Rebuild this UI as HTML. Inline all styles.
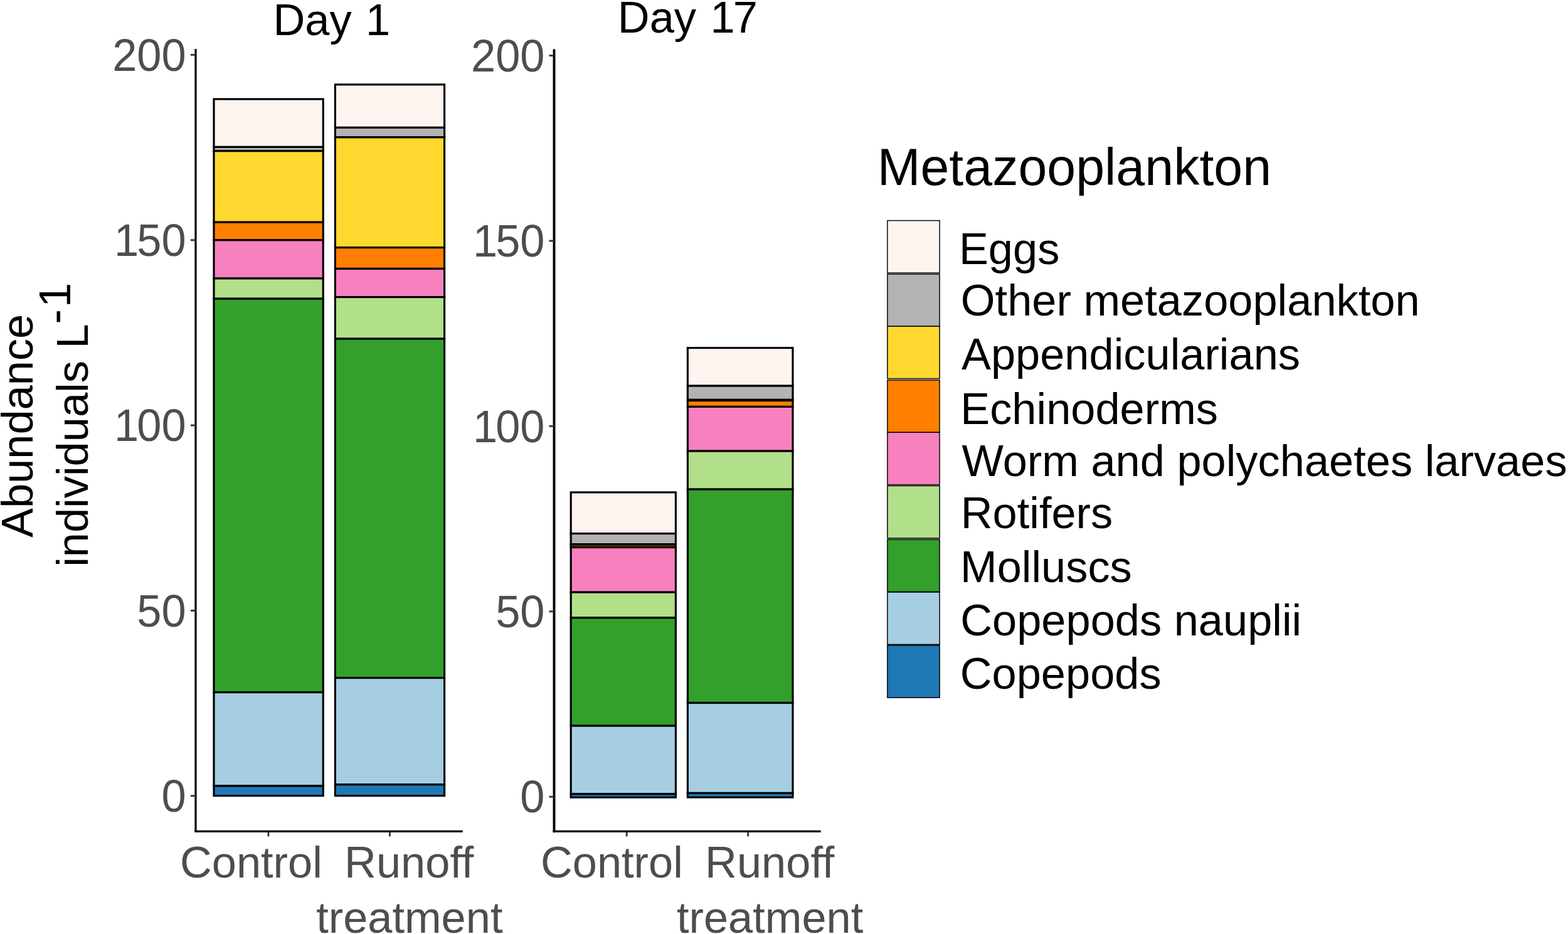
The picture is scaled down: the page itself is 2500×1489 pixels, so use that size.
<!DOCTYPE html>
<html><head><meta charset="utf-8"><title>Metazooplankton abundance</title>
<style>html,body{margin:0;padding:0;background:#fff;overflow:hidden;}svg{display:block;}</style>
</head><body>
<svg width="2500" height="1489" viewBox="0 0 2500 1489" font-family="'Liberation Sans', Arial, Helvetica, sans-serif">
<rect width="2500" height="1489" fill="#fff"/>
<rect x="341.00" y="158.00" width="174.25" height="76.40" fill="#FFF5F0" stroke="#000" stroke-width="3.15"/>
<rect x="341.00" y="234.40" width="174.25" height="6.30" fill="#B3B3B3" stroke="#000" stroke-width="3.15"/>
<rect x="341.00" y="240.70" width="174.25" height="113.60" fill="#FFD92F" stroke="#000" stroke-width="3.15"/>
<rect x="341.00" y="354.30" width="174.25" height="28.50" fill="#FF7F00" stroke="#000" stroke-width="3.15"/>
<rect x="341.00" y="382.80" width="174.25" height="61.10" fill="#F781BF" stroke="#000" stroke-width="3.15"/>
<rect x="341.00" y="443.90" width="174.25" height="32.30" fill="#B2DF8A" stroke="#000" stroke-width="3.15"/>
<rect x="341.00" y="476.20" width="174.25" height="627.50" fill="#33A02C" stroke="#000" stroke-width="3.15"/>
<rect x="341.00" y="1103.70" width="174.25" height="149.30" fill="#A6CEE3" stroke="#000" stroke-width="3.15"/>
<rect x="341.00" y="1253.00" width="174.25" height="15.60" fill="#1F78B4" stroke="#000" stroke-width="3.15"/>
<rect x="534.40" y="134.80" width="174.20" height="68.60" fill="#FFF5F0" stroke="#000" stroke-width="3.15"/>
<rect x="534.40" y="203.40" width="174.20" height="15.50" fill="#B3B3B3" stroke="#000" stroke-width="3.15"/>
<rect x="534.40" y="218.90" width="174.20" height="175.70" fill="#FFD92F" stroke="#000" stroke-width="3.15"/>
<rect x="534.40" y="394.60" width="174.20" height="33.80" fill="#FF7F00" stroke="#000" stroke-width="3.15"/>
<rect x="534.40" y="428.40" width="174.20" height="45.20" fill="#F781BF" stroke="#000" stroke-width="3.15"/>
<rect x="534.40" y="473.60" width="174.20" height="66.50" fill="#B2DF8A" stroke="#000" stroke-width="3.15"/>
<rect x="534.40" y="540.10" width="174.20" height="540.60" fill="#33A02C" stroke="#000" stroke-width="3.15"/>
<rect x="534.40" y="1080.70" width="174.20" height="170.10" fill="#A6CEE3" stroke="#000" stroke-width="3.15"/>
<rect x="534.40" y="1250.80" width="174.20" height="17.80" fill="#1F78B4" stroke="#000" stroke-width="3.15"/>
<rect x="910.20" y="784.90" width="167.20" height="65.70" fill="#FFF5F0" stroke="#000" stroke-width="3.15"/>
<rect x="910.20" y="850.60" width="167.20" height="17.00" fill="#B3B3B3" stroke="#000" stroke-width="3.15"/>
<rect x="910.20" y="867.60" width="167.20" height="0.50" fill="#FFD92F" stroke="#000" stroke-width="3.15"/>
<rect x="910.20" y="868.10" width="167.20" height="4.50" fill="#8A4600" stroke="#000" stroke-width="3.15"/>
<rect x="910.20" y="872.60" width="167.20" height="71.60" fill="#F781BF" stroke="#000" stroke-width="3.15"/>
<rect x="910.20" y="944.20" width="167.20" height="40.70" fill="#B2DF8A" stroke="#000" stroke-width="3.15"/>
<rect x="910.20" y="984.90" width="167.20" height="172.20" fill="#33A02C" stroke="#000" stroke-width="3.15"/>
<rect x="910.20" y="1157.10" width="167.20" height="108.70" fill="#A6CEE3" stroke="#000" stroke-width="3.15"/>
<rect x="910.20" y="1265.80" width="167.20" height="5.40" fill="#1F78B4" stroke="#000" stroke-width="3.15"/>
<rect x="1096.40" y="554.60" width="167.60" height="60.60" fill="#FFF5F0" stroke="#000" stroke-width="3.15"/>
<rect x="1096.40" y="615.20" width="167.60" height="22.20" fill="#B3B3B3" stroke="#000" stroke-width="3.15"/>
<rect x="1096.40" y="637.40" width="167.60" height="1.20" fill="#FFD92F" stroke="#000" stroke-width="3.15"/>
<rect x="1096.40" y="638.60" width="167.60" height="9.80" fill="#FF7F00" stroke="#000" stroke-width="3.15"/>
<rect x="1096.40" y="648.40" width="167.60" height="70.70" fill="#F781BF" stroke="#000" stroke-width="3.15"/>
<rect x="1096.40" y="719.10" width="167.60" height="61.00" fill="#B2DF8A" stroke="#000" stroke-width="3.15"/>
<rect x="1096.40" y="780.10" width="167.60" height="340.40" fill="#33A02C" stroke="#000" stroke-width="3.15"/>
<rect x="1096.40" y="1120.50" width="167.60" height="143.90" fill="#A6CEE3" stroke="#000" stroke-width="3.15"/>
<rect x="1096.40" y="1264.40" width="167.60" height="6.70" fill="#1F78B4" stroke="#000" stroke-width="3.15"/>
<path d="M311.95,78.00 V1325.45" fill="none" stroke="#000" stroke-width="3.2" stroke-linecap="butt"/>
<path d="M310.35,1325.45 H737.70" fill="none" stroke="#000" stroke-width="3.2"/>
<line x1="303.95" y1="87.40" x2="311.95" y2="87.40" stroke="#333" stroke-width="2.9"/>
<line x1="303.95" y1="382.75" x2="311.95" y2="382.75" stroke="#333" stroke-width="2.9"/>
<line x1="303.95" y1="678.10" x2="311.95" y2="678.10" stroke="#333" stroke-width="2.9"/>
<line x1="303.95" y1="973.45" x2="311.95" y2="973.45" stroke="#333" stroke-width="2.9"/>
<line x1="303.95" y1="1268.80" x2="311.95" y2="1268.80" stroke="#333" stroke-width="2.9"/>
<line x1="427.90" y1="1325.45" x2="427.90" y2="1333.45" stroke="#333" stroke-width="2.9"/>
<line x1="621.50" y1="1325.45" x2="621.50" y2="1333.45" stroke="#333" stroke-width="2.9"/>
<text transform="translate(179.19,112.60) scale(1,1.0280)" font-size="70.4" text-anchor="start" fill="#4D4D4D">200</text>
<text transform="translate(179.19,407.95) scale(1,1.0280)" font-size="70.4" text-anchor="start" fill="#4D4D4D"><tspan dx="2.9">1</tspan><tspan dx="-2.9">5</tspan>0</text>
<text transform="translate(179.19,703.30) scale(1,1.0280)" font-size="70.4" text-anchor="start" fill="#4D4D4D"><tspan dx="2.9">1</tspan><tspan dx="-2.9">0</tspan>0</text>
<text transform="translate(218.34,998.65) scale(1,1.0280)" font-size="70.4" text-anchor="start" fill="#4D4D4D">50</text>
<text transform="translate(257.50,1294.00) scale(1,1.0280)" font-size="70.4" text-anchor="start" fill="#4D4D4D">0</text>
<text transform="translate(435.43,56.10)" font-size="70.4" text-anchor="start" fill="#000">Day <tspan dx="2.9">1</tspan></text>
<text transform="translate(286.93,1399.10)" font-size="70.4" text-anchor="start" fill="#4D4D4D">Control</text>
<text transform="translate(549.12,1399.10)" font-size="70.4" text-anchor="start" fill="#4D4D4D">Runoff</text>
<text transform="translate(504.13,1487.10)" font-size="70.4" text-anchor="start" fill="#4D4D4D">treatment</text>
<path d="M883.50,79.95 V1325.45" fill="none" stroke="#000" stroke-width="3.9" stroke-linecap="round"/>
<path d="M881.55,1325.45 H1308.70" fill="none" stroke="#000" stroke-width="3.2"/>
<line x1="875.50" y1="88.60" x2="883.50" y2="88.60" stroke="#333" stroke-width="2.9"/>
<line x1="875.50" y1="384.00" x2="883.50" y2="384.00" stroke="#333" stroke-width="2.9"/>
<line x1="875.50" y1="679.40" x2="883.50" y2="679.40" stroke="#333" stroke-width="2.9"/>
<line x1="875.50" y1="974.80" x2="883.50" y2="974.80" stroke="#333" stroke-width="2.9"/>
<line x1="875.50" y1="1270.20" x2="883.50" y2="1270.20" stroke="#333" stroke-width="2.9"/>
<line x1="999.20" y1="1325.45" x2="999.20" y2="1333.45" stroke="#333" stroke-width="2.9"/>
<line x1="1192.70" y1="1325.45" x2="1192.70" y2="1333.45" stroke="#333" stroke-width="2.9"/>
<text transform="translate(750.99,113.80) scale(1,1.0280)" font-size="70.4" text-anchor="start" fill="#4D4D4D">200</text>
<text transform="translate(750.99,409.20) scale(1,1.0280)" font-size="70.4" text-anchor="start" fill="#4D4D4D"><tspan dx="2.9">1</tspan><tspan dx="-2.9">5</tspan>0</text>
<text transform="translate(750.99,704.60) scale(1,1.0280)" font-size="70.4" text-anchor="start" fill="#4D4D4D"><tspan dx="2.9">1</tspan><tspan dx="-2.9">0</tspan>0</text>
<text transform="translate(790.14,1000.00) scale(1,1.0280)" font-size="70.4" text-anchor="start" fill="#4D4D4D">50</text>
<text transform="translate(829.30,1295.40) scale(1,1.0280)" font-size="70.4" text-anchor="start" fill="#4D4D4D">0</text>
<text transform="translate(984.83,52.00)" font-size="70.4" text-anchor="start" fill="#000">Day <tspan dx="2.9">1</tspan><tspan dx="-2.9">7</tspan></text>
<text transform="translate(861.92,1398.90)" font-size="70.4" text-anchor="start" fill="#4D4D4D">Control</text>
<text transform="translate(1124.12,1399.10)" font-size="70.4" text-anchor="start" fill="#4D4D4D">Runoff</text>
<text transform="translate(1078.93,1487.00)" font-size="70.4" text-anchor="start" fill="#4D4D4D">treatment</text>
<text transform="translate(51.75,856.94) rotate(-90)" font-size="70.4" text-anchor="start" fill="#000">Abundance</text>
<text transform="translate(140.00,903.81) rotate(-90)" font-size="70.4" text-anchor="start" fill="#000">individuals L<tspan dy="-28.5">-<tspan dx="2.9">1</tspan></tspan></text>
<text transform="translate(1398.73,294.70)" font-size="82.5" text-anchor="start" fill="#000">Metazooplankton</text>
<rect x="1414.9" y="351.60" width="83.2" height="83.4" fill="#FFF5F0" stroke="#000" stroke-width="1.45"/>
<rect x="1414.9" y="437.00" width="83.2" height="83.4" fill="#B3B3B3" stroke="#000" stroke-width="1.45"/>
<rect x="1414.9" y="520.20" width="83.2" height="83.4" fill="#FFD92F" stroke="#000" stroke-width="1.45"/>
<rect x="1414.9" y="606.00" width="83.2" height="83.4" fill="#FF7F00" stroke="#000" stroke-width="1.45"/>
<rect x="1414.9" y="689.30" width="83.2" height="83.4" fill="#F781BF" stroke="#000" stroke-width="1.45"/>
<rect x="1414.9" y="774.50" width="83.2" height="83.4" fill="#B2DF8A" stroke="#000" stroke-width="1.45"/>
<rect x="1414.9" y="860.00" width="83.2" height="83.4" fill="#33A02C" stroke="#000" stroke-width="1.45"/>
<rect x="1414.9" y="944.00" width="83.2" height="83.4" fill="#A6CEE3" stroke="#000" stroke-width="1.45"/>
<rect x="1414.9" y="1028.80" width="83.2" height="83.4" fill="#1F78B4" stroke="#000" stroke-width="1.45"/>
<text transform="translate(1528.92,421.20)" font-size="70.4" text-anchor="start" fill="#000">Eggs</text>
<text transform="translate(1531.87,503.40)" font-size="70.4" text-anchor="start" fill="#000">Other metazooplankton</text>
<text transform="translate(1532.96,589.05)" font-size="70.4" text-anchor="start" fill="#000">Appendicularians</text>
<text transform="translate(1531.22,675.90)" font-size="70.4" text-anchor="start" fill="#000">Echinoderms</text>
<text transform="translate(1533.49,759.05)" font-size="70.4" text-anchor="start" fill="#000">Worm and polychaetes larvaes</text>
<text transform="translate(1531.72,842.00)" font-size="70.4" text-anchor="start" fill="#000">Rotifers</text>
<text transform="translate(1531.02,927.70)" font-size="70.4" text-anchor="start" fill="#000">Molluscs</text>
<text transform="translate(1531.22,1012.50)" font-size="70.4" text-anchor="start" fill="#000">Copepods nauplii</text>
<text transform="translate(1530.72,1098.00)" font-size="70.4" text-anchor="start" fill="#000">Copepods</text>
</svg>
</body></html>
